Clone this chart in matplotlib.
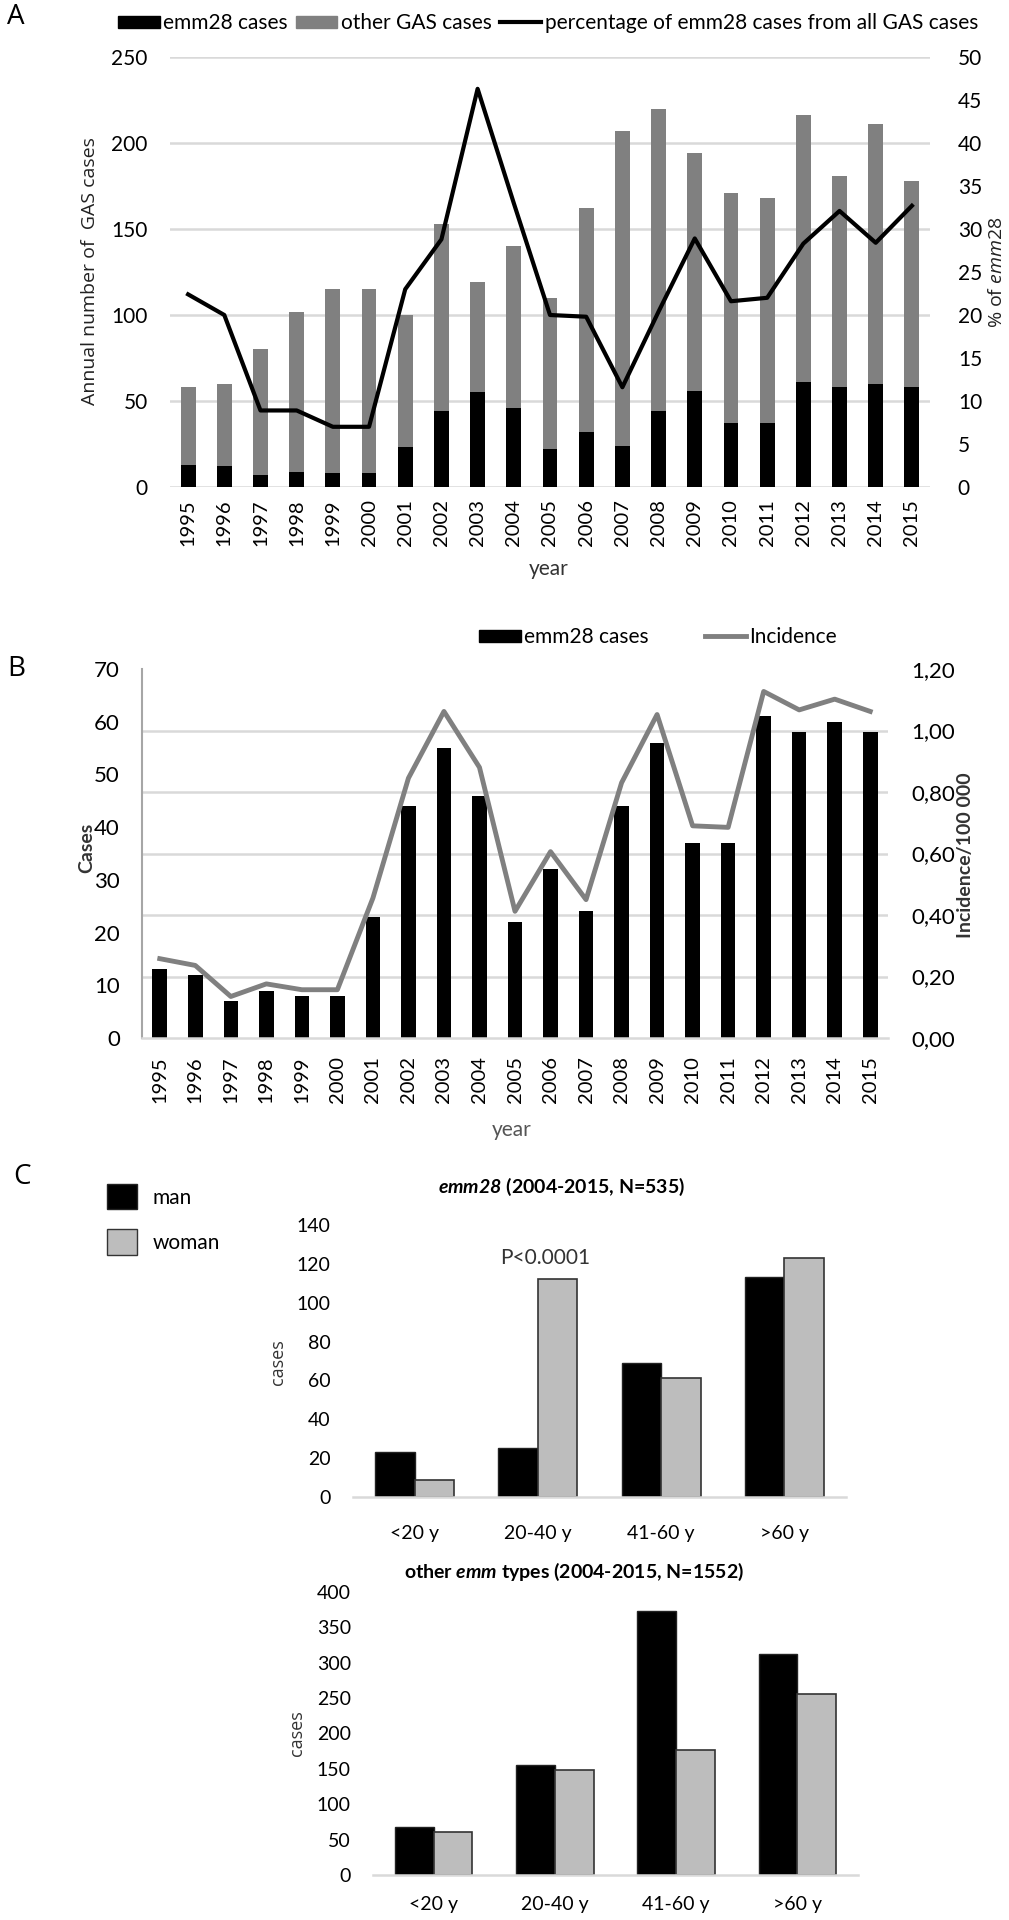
import numpy as np
import matplotlib
matplotlib.use('Agg')
import matplotlib.pyplot as plt
from matplotlib.patches import Patch
from matplotlib.lines import Line2D

plt.rcParams['font.family'] = ['Lato', 'DejaVu Sans']
plt.rcParams['mathtext.fontset'] = 'custom'
plt.rcParams['mathtext.it'] = 'Open Sans:italic'
plt.rcParams['mathtext.rm'] = 'Open Sans'
plt.rcParams['mathtext.bfit'] = 'Lato:italic:bold'

# --- data ---
years = [str(y) for y in range(1995, 2016)]
emm28_cases = [13, 12, 7, 9, 8, 8, 23, 44, 55, 46, 22, 32, 24, 44, 56, 37, 37, 61, 58, 60, 58]
other_gas_cases = [45, 48, 73, 93, 107, 107, 77, 109, 64, 94, 88, 130, 183, 176, 138, 134, 131, 155, 123, 151, 120]
pct_emm28 = [22.4, 20.0, 8.9, 8.9, 7.0, 7.0, 23.0, 28.8, 46.3, 33.0, 20.0, 19.8, 11.6, 20.4, 28.9,
             21.6, 22.0, 28.3, 32.1, 28.4, 32.7]
incidence = [0.258, 0.236, 0.135, 0.176, 0.157, 0.157, 0.455, 0.845, 1.062, 0.880, 0.412, 0.606,
             0.450, 0.830, 1.052, 0.690, 0.685, 1.127, 1.067, 1.102, 1.062]

age_groups = ['<20 y', '20-40 y', '41-60 y', '>60 y']
emm28_man = [23, 25, 69, 113]
emm28_woman = [9, 112, 61, 123]
other_man = [68, 156, 373, 312]
other_woman = [61, 149, 177, 256]

W, H = 1009, 1920
fig = plt.figure(figsize=(W / 100, H / 100), dpi=100)


def box(l, t, r, b):
    return [l / W, 1 - b / H, (r - l) / W, (b - t) / H]


GRID = '#d9d9d9'
GRAY = '#808080'

# ================= A =================
axA = fig.add_axes(box(170, 57, 930, 487))
x = np.arange(len(years))
axA.bar(x, emm28_cases, 0.41, color='black', zorder=2)
axA.bar(x, other_gas_cases, 0.41, bottom=emm28_cases, color=GRAY, zorder=2)
axA.set_xlim(-0.5, len(years) - 0.5)
axA.set_ylim(0, 250)
axA.set_yticks(range(0, 251, 50))
axA.yaxis.grid(True, color=GRID, lw=1.8)
axA.set_axisbelow(True)
axA.set_xticks(x)
axA.set_xticklabels(years, rotation=90)
axA.tick_params(axis='both', length=0, labelsize=15)
axA.tick_params(axis='y', pad=16)
axA.tick_params(axis='x', pad=9, labelsize=14.5)
for s in axA.spines.values():
    s.set_visible(False)

axA2 = axA.twinx()
axA2.plot(x, pct_emm28, color='black', lw=3, zorder=3)
axA2.set_ylim(0, 50)
axA2.set_yticks(range(0, 51, 5))
axA2.tick_params(axis='y', length=0, labelsize=15, pad=20)
for s in axA2.spines.values():
    s.set_visible(False)

fig.text(16 / W, 1 - 17 / H, 'A', fontsize=20, ha='center', va='center', family='Open Sans')
fig.text(90 / W, 1 - 271 / H, 'Annual number of  GAS cases', rotation=90, fontsize=14,
         family='Open Sans', ha='center', va='center', color='#222222')
fig.text(997 / W, 1 - 272 / H, r'% of $\mathit{emm28}$', rotation=90, fontsize=14,
         family='Open Sans', ha='center', va='center', color='#222222')
fig.text(549 / W, 1 - 569 / H, 'year', fontsize=15, ha='center', va='center', color='#333333')

legA = [Patch(color='black', label='emm28 cases'),
        Patch(color=GRAY, label='other GAS cases'),
        Line2D([], [], color='black', lw=3, label='percentage of emm28 cases from all GAS cases')]
fig.legend(handles=legA, loc='center', bbox_to_anchor=(548 / W, 1 - 23 / H), ncol=3,
           frameon=False, fontsize=15, handlelength=2.0, handleheight=0.5,
           handletextpad=0.15, columnspacing=0.4, borderpad=0)

# ================= B =================
axB = fig.add_axes(box(142, 669, 888, 1038))
axB.bar(x, emm28_cases, 0.41, color='black', zorder=2)
axB.set_xlim(-0.5, len(years) - 0.5)
axB.set_ylim(0, 70)
axB.set_yticks(range(0, 71, 10))
# gridlines follow the secondary (incidence) axis: 6 equal steps
axB.set_yticks(np.linspace(0, 70, 7), minor=True)
axB.yaxis.grid(True, which='minor', color=GRID, lw=1.8)
axB.yaxis.grid(False, which='major')
axB.set_axisbelow(True)
axB.set_xticks(x)
axB.set_xticklabels(years, rotation=90)
axB.tick_params(axis='both', which='both', length=0, labelsize=16)
axB.tick_params(axis='y', pad=16)
axB.tick_params(axis='x', pad=13, labelsize=14.5)
for k in ['top', 'right']:
    axB.spines[k].set_visible(False)
axB.spines['left'].set_color('#a6a6a6')
axB.spines['left'].set_linewidth(1.5)
axB.spines['bottom'].set_color(GRID)
axB.spines['bottom'].set_linewidth(1.8)

axB2 = axB.twinx()
axB2.set_ylim(0, 1.2)
axB2.set_yticks(np.arange(0, 1.21, 0.2))
axB2.set_yticklabels(['0,00', '0,20', '0,40', '0,60', '0,80', '1,00', '1,20'])
axB2.plot(x, incidence, color=GRAY, lw=3.5, zorder=3)
axB2.tick_params(axis='y', length=0, labelsize=16, pad=17)
for s in axB2.spines.values():
    s.set_visible(False)

fig.text(16 / W, 1 - 669 / H, 'B', fontsize=20, ha='center', va='center', family='Open Sans')
fig.text(87 / W, 1 - 848 / H, 'Cases', rotation=90, fontsize=14, fontweight='bold',
         ha='center', va='center', color='#333333')
fig.text(965 / W, 1 - 855 / H, 'Incidence/100 000', rotation=90, fontsize=14, fontweight='bold',
         ha='center', va='center', color='#333333')
fig.text(512 / W, 1 - 1130 / H, 'year', fontsize=15, ha='center', va='center', color='#555555')

legB = [Patch(color='black', label='emm28 cases'),
        Line2D([], [], color=GRAY, lw=3.5, label='Incidence')]
fig.legend(handles=legB, loc='center', bbox_to_anchor=(658 / W, 1 - 637 / H), ncol=2,
           frameon=False, fontsize=15, handlelength=2.0, handleheight=0.5,
           handletextpad=0.15, columnspacing=2.7, borderpad=0)


# ================= C =================
def sex_bars(ax, man, woman, ymax, step, xpad):
    g = np.arange(len(age_groups))
    ax.bar(g - 0.16, man, 0.32, color='black', edgecolor='#222222', lw=1, zorder=2)
    ax.bar(g + 0.16, woman, 0.32, color='#bdbdbd', edgecolor='#333333', lw=1.2, zorder=2)
    ax.set_xlim(-0.5, len(age_groups) - 0.5)
    ax.set_ylim(0, ymax)
    ax.set_yticks(range(0, ymax + 1, step))
    ax.set_xticks(g)
    ax.set_xticklabels(age_groups)
    ax.tick_params(axis='both', length=0, labelsize=14)
    ax.tick_params(axis='y', pad=16)
    ax.tick_params(axis='x', pad=xpad)
    for k in ['top', 'right', 'left']:
        ax.spines[k].set_visible(False)
    ax.spines['bottom'].set_color(GRID)
    ax.spines['bottom'].set_linewidth(1.8)


axC1 = fig.add_axes(box(353, 1225, 846, 1497))
sex_bars(axC1, emm28_man, emm28_woman, 140, 20, 20)
axC1.text(1.06, 123, 'P<0.0001', fontsize=15, ha='center', va='center', color='#333333')

axC2 = fig.add_axes(box(373, 1592, 858, 1875))
sex_bars(axC2, other_man, other_woman, 400, 50, 15)

fig.text(22 / W, 1 - 1177 / H, 'C', fontsize=20, ha='center', va='center', family='Open Sans')
fig.text(562 / W, 1 - 1187 / H, r'$\mathbfit{emm28}$ (2004-2015, N=535)', fontsize=14,
         fontweight='bold', ha='center', va='center')
fig.text(574 / W, 1 - 1572 / H, r'other $\mathbfit{emm}$ types (2004-2015, N=1552)', fontsize=14,
         fontweight='bold', ha='center', va='center')
fig.text(278 / W, 1 - 1362 / H, 'cases', rotation=90, fontsize=13, family='Open Sans',
         ha='center', va='center', color='#333333')
fig.text(297 / W, 1 - 1733 / H, 'cases', rotation=90, fontsize=13, family='Open Sans',
         ha='center', va='center', color='#333333')

legC = [Patch(facecolor='black', edgecolor='#222222', label='man'),
        Patch(facecolor='#bdbdbd', edgecolor='#333333', label='woman')]
fig.legend(handles=legC, loc='upper left', bbox_to_anchor=(107 / W, 1 - 1184 / H), ncol=1,
           frameon=False, fontsize=15, handlelength=1.45, handleheight=1.5,
           handletextpad=0.75, labelspacing=0.95, borderpad=0, borderaxespad=0)

fig.savefig('out.png', dpi=100)
